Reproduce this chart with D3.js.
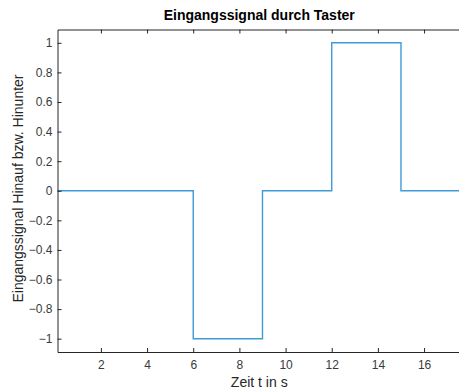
<!DOCTYPE html>
<html>
<head>
<meta charset="utf-8">
<script src="https://cdn.jsdelivr.net/npm/d3@7"></script>
<style>
  html, body { margin: 0; padding: 0; background: #fff; }
  svg { display: block; }
  text { font-family: "Liberation Sans", Arial, Helvetica, sans-serif; }
</style>
</head>
<body>
<script>
// Button input signal: step changes at the given times
const stepTimes  = [0.12, 6, 9, 12, 15, 17.6];
const stepValues = [0, -1, 0, 1, 0, 0];
const xTicks = [2, 4, 6, 8, 10, 12, 14, 16];
const yTicks = [-1, -0.8, -0.6, -0.4, -0.2, 0, 0.2, 0.4, 0.6, 0.8, 1];
const titleText = "Eingangssignal durch Taster";
const xLabelText = "Zeit t in s";
const yLabelText = "Eingangssignal Hinauf bzw. Hinunter";

const W = 459, H = 389;
const margin = { left: 57.5, top: 29.5, right: -2, bottom: 37 };

const svg = d3.select("body").append("svg").attr("width", W).attr("height", H);

const x = d3.scaleLinear().domain([0.12, 17.6]).range([margin.left, W - margin.right]);
const y = d3.scaleLinear().domain([-1.09, 1.09]).range([H - margin.bottom, margin.top]);

const axisColor = "#262626";
const tickLen = 4;

// step line
const pts = stepTimes.map((t, i) => [t, stepValues[i]]);
const line = d3.line().x(d => x(d[0])).y(d => y(d[1])).curve(d3.curveStepAfter);
svg.append("path")
  .datum(pts)
  .attr("fill", "none")
  .attr("stroke", "#3f9ad8")
  .attr("stroke-width", 1.4)
  .attr("d", line);

// axes (inward ticks)
const gx = svg.append("g").attr("transform", `translate(0,${y.range()[0]})`)
  .call(d3.axisBottom(x).tickValues(xTicks).tickSizeInner(-tickLen).tickSizeOuter(0).tickPadding(8).tickFormat(d3.format("d")));
const gxTop = svg.append("g").attr("transform", `translate(0,${y.range()[1]})`)
  .call(d3.axisTop(x).tickValues(xTicks).tickSizeInner(-tickLen).tickSizeOuter(0).tickFormat(""));
const gy = svg.append("g").attr("transform", `translate(${margin.left},0)`)
  .call(d3.axisLeft(y).tickValues(yTicks).tickSizeInner(-tickLen).tickSizeOuter(0).tickPadding(5)
    .tickFormat(d => d === 0 ? "0" : d3.format("")(+d.toFixed(1))));

[gx, gxTop, gy].forEach(g => {
  g.select(".domain").attr("stroke", axisColor).attr("stroke-width", 1);
  g.selectAll(".tick line").attr("stroke", axisColor);
  g.selectAll(".tick text").attr("fill", "#3a3a3a").attr("font-size", 12)
    .attr("font-family", "'Liberation Sans', Arial, sans-serif");
});

// title and axis labels
svg.append("text")
  .attr("x", (margin.left + 461) / 2).attr("y", 20)
  .attr("text-anchor", "middle").attr("font-weight", "bold").attr("font-size", 14)
  .attr("fill", "#000")
  .text(titleText);

svg.append("text")
  .attr("x", (margin.left + 461) / 2).attr("y", 387)
  .attr("text-anchor", "middle").attr("font-size", 14).attr("fill", "#262626")
  .text(xLabelText);

svg.append("text")
  .attr("transform", `translate(23,188.5) rotate(-90)`)
  .attr("text-anchor", "middle").attr("font-size", 14).attr("fill", "#262626")
  .text(yLabelText);
</script>
</body>
</html>
